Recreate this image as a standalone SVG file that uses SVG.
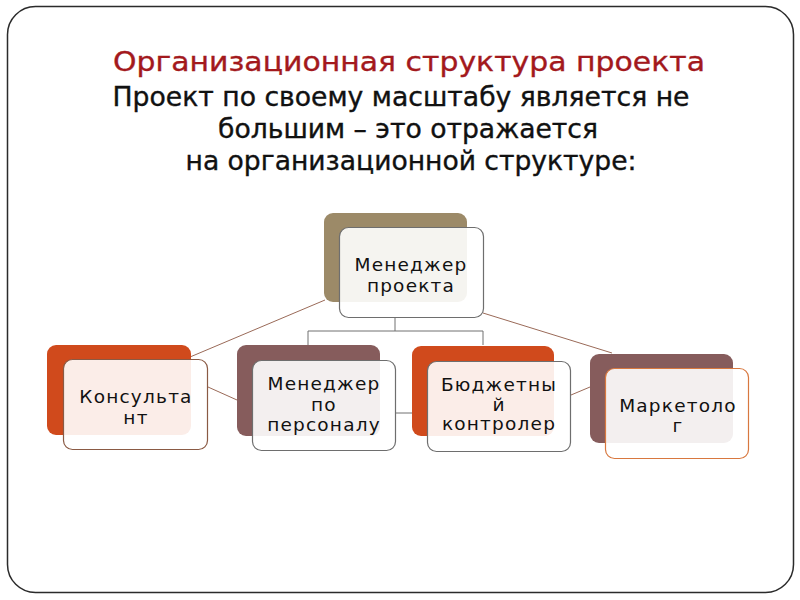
<svg xmlns="http://www.w3.org/2000/svg" width="800" height="600" viewBox="0 0 800 600">
<style>
.back{stroke:none}
.front{fill:#ffffff;fill-opacity:0.9;stroke-width:1.2}
.lbl{font-family:"DejaVu Sans",sans-serif;font-size:18.5px;letter-spacing:1.2px;fill:#111;text-anchor:middle}
.conn{fill:none;stroke-width:1}
.head{stroke-width:0.35px}
</style>
<rect x="0" y="0" width="800" height="600" fill="#ffffff"/>
<rect id="frame" x="7.5" y="6.5" width="786" height="586" rx="28" ry="28" fill="#ffffff" stroke="#2b2b2b" stroke-width="1.5"/>
<g id="title">
<text class="head" x="409" y="71" font-family="DejaVu Sans, sans-serif" font-size="27" fill="#a3191d" stroke="#a3191d" text-anchor="middle" textLength="592" lengthAdjust="spacingAndGlyphs">Организационная структура проекта</text>
<text class="head" x="401" y="106" font-family="DejaVu Sans Condensed, DejaVu Sans, sans-serif" font-size="27" fill="#111" stroke="#111" text-anchor="middle" textLength="577" lengthAdjust="spacingAndGlyphs">Проект по своему масштабу является не</text>
<text class="head" x="408" y="138" font-family="DejaVu Sans Condensed, DejaVu Sans, sans-serif" font-size="27" fill="#111" stroke="#111" text-anchor="middle" textLength="380" lengthAdjust="spacingAndGlyphs">большим – это отражается</text>
<text class="head" x="411" y="170" font-family="DejaVu Sans Condensed, DejaVu Sans, sans-serif" font-size="27" fill="#111" stroke="#111" text-anchor="middle" textLength="451" lengthAdjust="spacingAndGlyphs">на организационной структуре:</text>
</g>
<g id="connectors">
<polyline class="conn" stroke="#707070" points="395,318 395,331"/>
<polyline class="conn" stroke="#707070" points="308,345 308,331 483,331 483,345"/>
<line class="conn" stroke="#9a6a58" x1="325" y1="300" x2="190" y2="357"/>
<line class="conn" stroke="#9a6a58" x1="483" y1="313" x2="612" y2="353"/>
<line class="conn" stroke="#9a6a58" x1="208" y1="387" x2="237" y2="400"/>
<line class="conn" stroke="#707070" x1="396" y1="413" x2="412" y2="413"/>
<line class="conn" stroke="#9a6a58" x1="571" y1="395" x2="590" y2="387"/>
</g>
<g id="node-manager">
<rect class="back" x="324" y="213" width="143" height="89" rx="9" fill="#9c8a68"/>
<rect class="front" x="339.5" y="227.5" width="144" height="90" rx="9" stroke="#6e6e6e"/>
<text class="lbl" x="411" y="271">Менеджер</text>
<text class="lbl" x="411" y="292">проекта</text>
</g>
<g id="node-consultant">
<rect class="back" x="47" y="345" width="144" height="90" rx="9" fill="#d04a1c"/>
<rect class="front" x="63.5" y="359.5" width="144" height="90" rx="9" stroke="#8a5a44"/>
<text class="lbl" x="136" y="403">Консульта</text>
<text class="lbl" x="136" y="424">нт</text>
</g>
<g id="node-hr">
<rect class="back" x="237" y="345" width="143" height="91" rx="9" fill="#865c5c"/>
<rect class="front" x="252.5" y="360.5" width="143" height="90" rx="9" stroke="#6e6e6e"/>
<text class="lbl" x="324" y="390">Менеджер</text>
<text class="lbl" x="324" y="411">по</text>
<text class="lbl" x="324" y="431">персоналу</text>
</g>
<g id="node-budget">
<rect class="back" x="412" y="346" width="142" height="90" rx="9" fill="#d04a1c"/>
<rect class="front" x="427.5" y="361.5" width="143" height="90" rx="9" stroke="#6e6e6e"/>
<text class="lbl" x="499" y="391">Бюджетны</text>
<text class="lbl" x="499" y="411">й</text>
<text class="lbl" x="499" y="430">контролер</text>
</g>
<g id="node-marketing">
<rect class="back" x="590" y="354" width="143" height="89" rx="9" fill="#865c5c"/>
<rect class="front" x="605.5" y="368.5" width="143" height="90" rx="9" stroke="#d8783f"/>
<text class="lbl" x="678" y="412">Маркетоло</text>
<text class="lbl" x="678" y="432">г</text>
</g>
</svg>
